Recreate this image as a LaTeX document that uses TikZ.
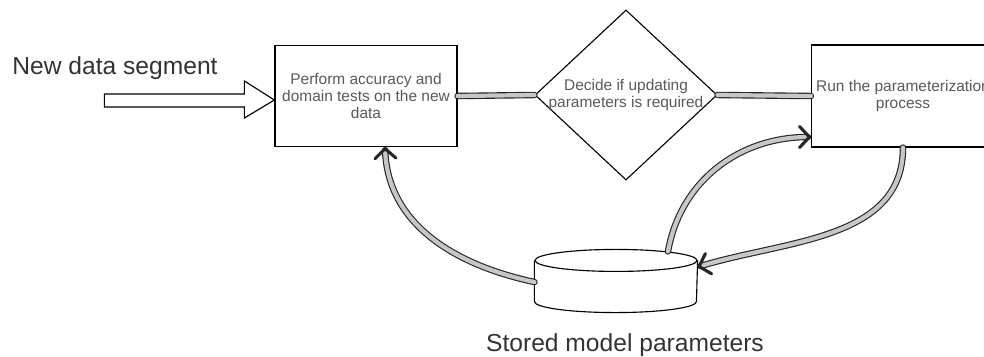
\documentclass[tikz,border=0pt]{standalone}
\usepackage{fontspec}
\setmainfont{Liberation Sans}
\usetikzlibrary{shapes.geometric,arrows.meta}

\tikzset{
  pipe/.style={draw=black!85, line width=0.8pt, double=black!22, double distance=3pt, line cap=round},
  pipearrow/.style={pipe, -{Straight Barb[length=7pt, width=15pt, line width=2.2pt, round]}},
  boxtext/.style={text=black!65, font=\fontsize{11}{12}\selectfont, align=center},
}

\begin{document}
\begin{tikzpicture}[x=0.025cm, y=0.025cm, line width=0.8pt]
\useasboundingbox (0,0) rectangle (984,356);
\clip (0,0) rectangle (984,356);
\node (title) [anchor=base, text=black!80, font=\fontsize{17.5}{20}\selectfont] at (115,281) {New data segment};
\node (box1) [draw, rectangle, boxtext, minimum width=4.55cm, minimum height=2.525cm] at (366,260) {Perform accuracy and\\domain tests on the new\\data};
\node (box2) [draw, diamond, minimum width=4.55cm, minimum height=4.25cm] at (626,261) {};
\node (box2text) [boxtext] at (box2) {Decide if updating\\parameters is required};
\node (box3) [draw, rectangle, boxtext, minimum width=4.5cm, minimum height=2.55cm] at (903,260) {Run the parameterization\\process};
\node (store) [minimum width=4.05cm, minimum height=1.55cm] at (616,75) {};
\node (label) [anchor=base, text=black!80, font=\fontsize{17.5}{20}\selectfont] at (625,5) {Stored model parameters};

% Input arrow
\draw[fill=white] ([yshift=-0.1cm]box1.west) -- ++(-30,19) -- ++(0,-13) -- ++(-140,0) -- ++(0,-13) -- ++(140,0) -- ++(0,-11) -- cycle;

% Cylinder
\draw ([yshift=-0.275cm]store.north) ellipse [x radius=2.025cm, y radius=0.275cm];
\draw ([yshift=-0.275cm]store.north west) -- ([yshift=0.275cm]store.south west) arc [start angle=180, end angle=360, x radius=2.025cm, y radius=0.275cm] -- ([yshift=-0.275cm]store.north east);

% Arrows
\draw[pipe] (box1.east) -- (box2.west);
\draw[pipe] (box2.east) -- (box3.west);
\draw[pipearrow] ([yshift=-0.025cm]store.west) to[out=168, in=-88] ([xshift=0.475cm]box1.south);
\draw[pipearrow] ([xshift=1.3cm, yshift=-0.05cm]store.north) to[out=80, in=180] ([yshift=-1.025cm]box3.west);
\draw[pipearrow] (box3.south) to[out=-90, in=17] ([yshift=0.35cm]store.east);
\end{tikzpicture}
\end{document}
